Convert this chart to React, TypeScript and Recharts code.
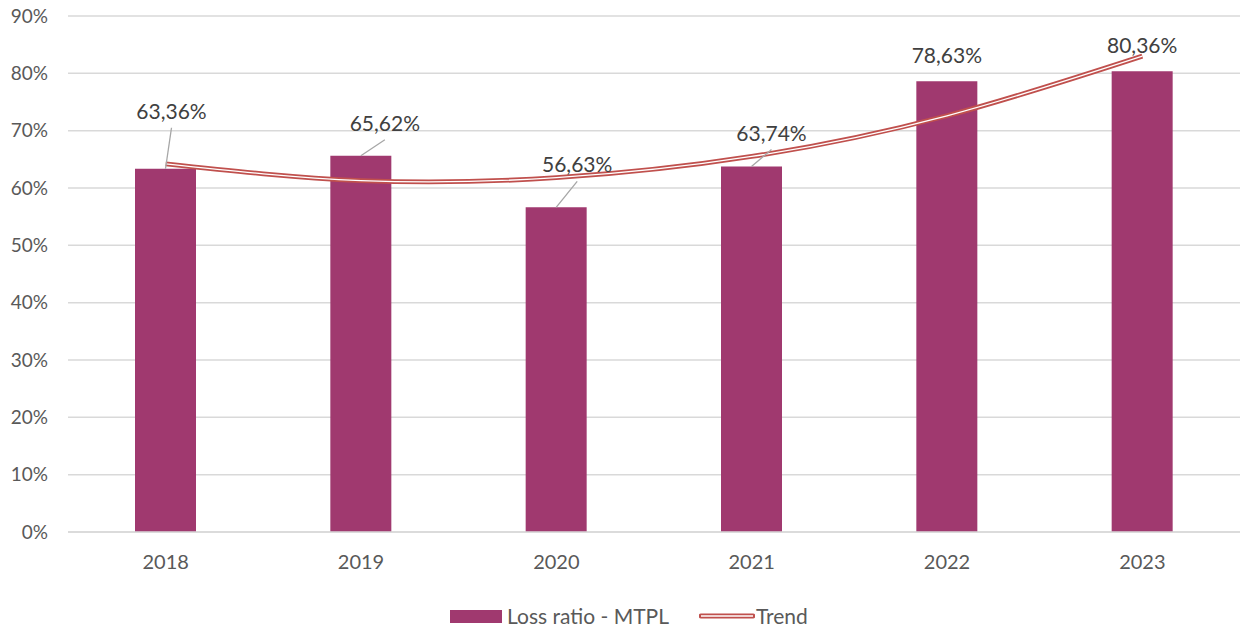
import { ComposedChart, Bar, Line, XAxis, YAxis, CartesianGrid, LabelList } from "recharts"

const years = ["2018", "2019", "2020", "2021", "2022", "2023"]
const lossRatio = [63.36, 65.62, 56.63, 63.74, 78.63, 80.36]
// trend (polynomial)
const trend = [64.2, 61.3, 61.8, 65.5, 72.6, 83.0]
const yTicks = [0, 10, 20, 30, 40, 50, 60, 70, 80, 90]

const data = years.map((year, i) => ({ year, loss: lossRatio[i], trend: trend[i] }))

// label placement relative to the bar top
const labelShift = [
  { dx: 6, dy: -50, leader: true },
  { dx: 24, dy: -25, leader: true },
  { dx: 21, dy: -35, leader: true },
  { dx: 20, dy: -26, leader: true },
  { dx: 0, dy: -18, leader: false },
  { dx: 0, dy: -18, leader: false },
]

const FONT = "Lato, 'Open Sans', sans-serif"
const BAR = "#A0396F"
const RED = "#C0504D"
const TEXT = "#595959"

const fmt = (v: number) => v.toFixed(2).replace(".", ",") + "%"

function BarLabel(props: any) {
  const { x, y, width, value, index } = props
  const s = labelShift[index]
  const cx = x + width / 2
  const lx = cx + s.dx
  const ly = y + s.dy
  return (
    <g>
      {s.leader && <line x1={lx} y1={ly + 9} x2={cx} y2={y} stroke="#a6a6a6" strokeWidth={1.3} />}
      <text x={lx} y={ly} textAnchor="middle" fontSize={21} fill="#404040" fontFamily={FONT}>
        {fmt(value)}
      </text>
    </g>
  )
}

export default function App() {
  return (
    <div style={{ position: "absolute", left: 0, top: 0, width: 1240, height: 631, background: "#fff", fontFamily: FONT }}>
      <ComposedChart width={1240} height={580} data={data} margin={{ top: 16, right: 0, left: 0, bottom: 0 }}>
        <CartesianGrid vertical={false} stroke="#d9d9d9" strokeWidth={1.5} />
        <XAxis
          dataKey="year"
          height={48}
          tickLine={false}
          axisLine={{ stroke: "#d9d9d9", strokeWidth: 1.5 }}
          tick={{ fill: TEXT, fontSize: 20, fontFamily: FONT }}
          tickMargin={17}
        />
        <YAxis
          width={68}
          domain={[0, 90]}
          ticks={yTicks}
          interval={0}
          tickFormatter={(v) => `${v}%`}
          tickLine={false}
          axisLine={false}
          tick={{ fill: TEXT, fontSize: 19, fontFamily: FONT }}
          tickMargin={14}
        />
        <Bar dataKey="loss" fill={BAR} barSize={61} isAnimationActive={false}>
          <LabelList dataKey="loss" content={BarLabel} />
        </Bar>
        <Line type="natural" dataKey="trend" stroke={RED} strokeWidth={4.8} dot={false} isAnimationActive={false} />
        <Line type="natural" dataKey="trend" stroke="#ffffff" strokeWidth={1.3} dot={false} isAnimationActive={false} />
      </ComposedChart>
      <div style={{ position: "absolute", top: 603, left: 450, display: "flex", alignItems: "center", fontSize: 21, color: TEXT, lineHeight: "26px" }}>
        <span style={{ display: "inline-block", width: 52, height: 13, background: BAR, marginRight: 5 }} />
        <span>Loss ratio - MTPL</span>
        <svg width={56} height={8} style={{ marginLeft: 30, marginRight: 1 }}>
          <line x1={2} y1={4} x2={54} y2={4} stroke={RED} strokeWidth={4.8} strokeLinecap="round" />
          <line x1={2} y1={4} x2={54} y2={4} stroke="#fff" strokeWidth={1.3} />
        </svg>
        <span>Trend</span>
      </div>
    </div>
  )
}
